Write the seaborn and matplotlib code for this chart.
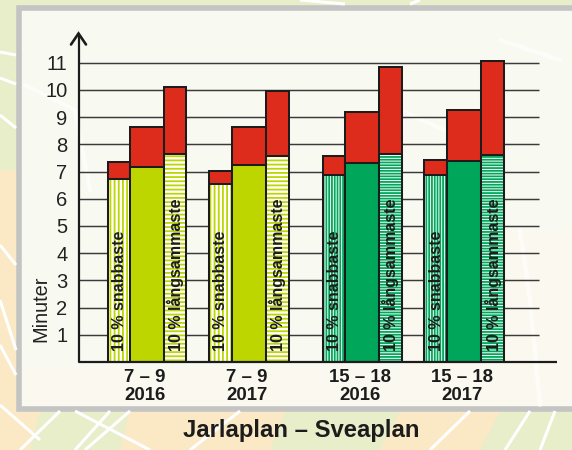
import numpy as np
import pandas as pd
import matplotlib
matplotlib.use("Agg")
import matplotlib.pyplot as plt
from matplotlib.patches import Rectangle
from matplotlib.transforms import blended_transform_factory
import seaborn as sns

sns.set_theme(style="white")
plt.rcParams['font.family'] = ['Liberation Sans', 'DejaVu Sans']
plt.rcParams['hatch.linewidth'] = 1.3

# ---- data ----
period_labels = ["7 – 9", "7 – 9", "15 – 18", "15 – 18"]
year_labels = ["2016", "2017", "2016", "2017"]
fast_base = [6.74, 6.56, 6.88, 6.89]
fast_total = [7.34, 7.01, 7.58, 7.41]
median_base = [7.16, 7.25, 7.31, 7.40]
median_total = [8.65, 8.64, 9.18, 9.26]
slow_base = [7.65, 7.57, 7.66, 7.60]
slow_total = [10.12, 9.96, 10.83, 11.08]
y_ticks = list(range(1, 12))
title = "Jarlaplan – Sveaplan"
y_label = "Minuter"
fast_label = "10 % snabbaste"
slow_label = "10 % långsammaste"

# ---- layout (pixels) ----
W, H = 572, 450
fast_left = np.array([107.5, 208.8, 322.7, 424.4])
median_left = np.array([129.8, 231.7, 345.0, 447.3])
slow_left = np.array([163.6, 266.0, 378.8, 481.0])
slow_right = np.array([186.2, 288.8, 402.0, 504.0])
unit_px = 27.2
base_y = 362.0
axis_x = 78.5
top_y = 33.0
right_x = 557.0
grid_end = 538.7

BLACK = "#1c1c1c"
RED = "#DD2C1B"
LIME = "#BDD600"
GREEN = "#00A65A"
group_colors = [LIME, LIME, GREEN, GREEN]

fig = plt.figure(figsize=(W / 100, H / 100), dpi=100)

# ---- map-like background ----
bg = fig.add_axes([0, 0, 1, 1], zorder=0)
bg.set_xlim(0, W)
bg.set_ylim(H, 0)
bg.axis("off")
bg.add_patch(Rectangle((0, 0), W, H, fc="#FBE9C6", ec="none"))
bg.add_patch(Rectangle((0, 0), W, 170, fc="#E7EEC9", ec="none"))
bg.fill([40, 130, 120, 30], [411, 411, 450, 450], fc="#E7EEC9", ec="none")
bg.fill([285, 400, 380, 270], [411, 411, 450, 450], fc="#E7EEC9", ec="none")
bg.fill([500, 572, 572, 480], [411, 411, 450, 450], fc="#E7EEC9", ec="none")
roads = [
    ([0, 16], [52, 55]), ([0, 16], [78, 84]), ([0, 16], [115, 128]),
    ([0, 16], [300, 350]), ([0, 16], [345, 375]), ([0, 16], [245, 265]),
    ([20, 60], [450, 411]), ([110, 75], [411, 450]), ([75, 150], [411, 450]),
    ([130, 85], [411, 450]), ([240, 190], [411, 450]), ([470, 430], [411, 450]),
    ([530, 505], [411, 450]), ([555, 540], [411, 450]), ([300, 345], [0, 4]),
    ([420, 410], [0, 4]), ([0, 40], [405, 440]),
]
for xs, ys in roads:
    bg.plot(xs, ys, color="white", lw=2.2, solid_capstyle="butt")
bg.add_patch(Rectangle((19, 7.5), W, 401.5, fc="#F8F9F1", ec="#C4C4C4", lw=4))
bg.add_patch(Rectangle((21.7, 370), W, 36, fc="#FBF9EF", ec="none"))
bg.add_patch(Rectangle((400, 230), W, 140, fc="#FBF9EF", ec="none"))
for xs, ys in [([25, 75, 90], [85, 110, 190]), ([400, 455, 470], [110, 135, 170]),
               ([500, 530, 560], [40, 50, 60]), ([520, 530, 540], [230, 300, 405])]:
    bg.plot(xs, ys, color="white", lw=3, alpha=0.6)

# ---- chart axes ----
ax = fig.add_axes([axis_x / W, 1 - base_y / H, (right_x - axis_x) / W, (base_y - top_y) / H], zorder=1)
ax.patch.set_alpha(0)
for side in ["top", "right", "bottom", "left"]:
    ax.spines[side].set_visible(False)


def bars(values, left, right):
    """Draw one series through seaborn and give the bars their own widths."""
    centers = (left + right) / 2
    frame = pd.DataFrame({"x": centers, "y": values})
    sns.barplot(data=frame, x="x", y="y", native_scale=True, ax=ax, color="white",
                saturation=1, errorbar=None, zorder=3, legend=False)
    patches = list(ax.containers[-1])
    for patch, l, r in zip(patches, left, right):
        patch.set_x(l)
        patch.set_width(r - l)
    return patches


def outline(patches, fc=None):
    for patch in patches:
        patch.set_facecolor(fc if fc else "none")
        patch.set_edgecolor(BLACK)
        patch.set_linewidth(1.45)
        patch.set_joinstyle("miter")


series = [
    (fast_total, fast_base, fast_left, median_left, "|"),
    (slow_total, slow_base, slow_left, slow_right, "-"),
    (median_total, median_base, median_left, slow_left, None),
]
for total, base, left, right, hatch in series:
    outline(bars(total, left, right), RED)
    if hatch is None:
        patches = bars(base, left, right)
        for patch, col in zip(patches, group_colors):
            patch.set_zorder(4)
            patch.set_facecolor(col)
            patch.set_edgecolor(BLACK)
            patch.set_linewidth(1.45)
            patch.set_joinstyle("miter")
    else:
        fill = bars(base, left, right)
        for patch, col in zip(fill, group_colors):
            patch.set_facecolor("white")
            patch.set_edgecolor(col)
            patch.set_linewidth(0)
            patch.set_hatch(hatch * (4 if col == LIME else 6))
            patch.set_zorder(4)
        edge = bars(base, left, right)
        outline(edge)
        for patch in edge:
            patch.set_zorder(5)

ax.set_xlim(axis_x, right_x)
ax.set_ylim(0, (base_y - top_y) / unit_px)
ax.set_xlabel("")
ax.set_ylabel("")
ax.set_xticks([])
ax.set_yticks(y_ticks)
ax.tick_params(axis="y", length=0, pad=8, labelsize=14.5, labelcolor="#222222")

# grid lines stop short of the x axis end
ax.hlines(y_ticks, axis_x, grid_end, color="#3a3a3a", lw=1.05, zorder=1)
# axes with arrow
ax.plot([axis_x, right_x], [0, 0], color=BLACK, lw=1.6, zorder=6, clip_on=False, solid_capstyle="butt")
ax.plot([axis_x, axis_x], [0, (base_y - top_y - 1) / unit_px], color=BLACK, lw=1.6, zorder=6, clip_on=False)
tip = (base_y - top_y - 0.5) / unit_px
ax.plot([axis_x - 7.5, axis_x, axis_x + 7.5], [tip - 11 / unit_px, tip, tip - 11 / unit_px],
        color=BLACK, lw=1.9, zorder=6, clip_on=False, solid_joinstyle="miter")

# labels in the bars
for l, r in zip(fast_left, median_left):
    ax.text((l + r) / 2 + 0.5, 0.41, fast_label, rotation=90, ha="center", va="bottom",
            fontsize=11.5, fontweight="bold", color=BLACK, zorder=7)
for l, r in zip(slow_left, slow_right):
    ax.text((l + r) / 2 + 0.5, 0.41, slow_label, rotation=90, ha="center", va="bottom",
            fontsize=11.5, fontweight="bold", color=BLACK, zorder=7)

# category labels
for l, r, p, y in zip(fast_left, slow_right, period_labels, year_labels):
    c = (l + r) / 2
    ax.text(c - 2, -16 / unit_px, p, ha="center", va="center", fontsize=13.4, fontweight="bold", color=BLACK)
    ax.text(c - 2, -34 / unit_px, y, ha="center", va="center", fontsize=13.4, fontweight="bold", color=BLACK)

ax.text(41, (base_y - 308.5) / unit_px, y_label, transform=blended_transform_factory(bg.transData, ax.transData),
        rotation=90, ha="center", va="center", fontsize=14.4, color="#222222")
fig.text(301 / W, 1 - 431 / H, title, ha="center", va="center", fontsize=17.2, fontweight="bold", color=BLACK, zorder=3)

fig.savefig("out.png", dpi=100)
